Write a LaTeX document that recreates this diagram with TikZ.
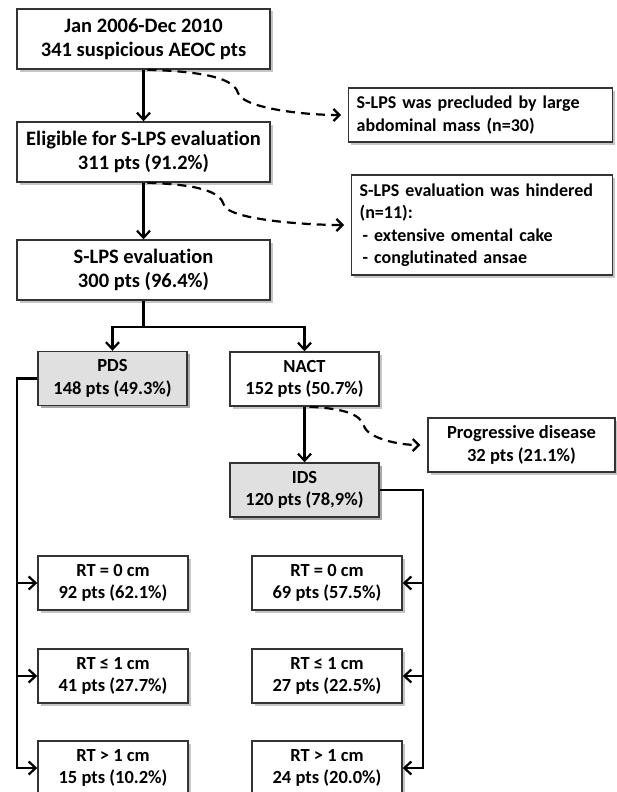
\documentclass[tikz,border=0pt]{standalone}
\usepackage{fontspec}
\setmainfont{Carlito}[Ligatures=NoCommon]
\usetikzlibrary{arrows.meta,shadows}

\begin{document}
\begin{tikzpicture}[x=1pt,y=-1pt,
  box/.style={draw=black!80,line width=1.4pt,fill=white,align=center,inner sep=2pt,
    font=\fontsize{18.5}{22.5}\selectfont\bfseries,
    drop shadow={shadow xshift=2.5pt,shadow yshift=-2.5pt,fill=black!45}},
  graybox/.style={box,fill=black!12},
  bigbox/.style={box,minimum width=253pt,minimum height=60pt,
    font=\fontsize{20.5}{24}\selectfont\bfseries},
  smallbox/.style={box,minimum width=149pt,minimum height=54pt},
  notebox/.style={box,align=left,anchor=west,inner xsep=8pt,
    font=\fontsize{18}{22.5}\selectfont\bfseries},
  link/.style={line width=2.2pt},
  arr/.style={link,-{Straight Barb[length=7pt,width=13pt]}},
  dashlink/.style={link,dash pattern=on 9pt off 6pt,
    -{Straight Barb[length=6pt,width=12pt]},shorten >=7pt}]

\useasboundingbox (0,0) rectangle (616,792);

\node[bigbox](start) at (143.5,39){Jan 2006-Dec 2010\\341 suspicious AEOC pts};
\node[bigbox](elig) at (143.5,152){Eligible for S-LPS evaluation\\311 pts (91.2\%)};
\node[bigbox](slps) at (143.5,270){S-LPS evaluation\\300 pts (96.4\%)};

\node[notebox,text width=248pt,minimum height=54pt](precl) at (348,115)
  {S-LPS was precluded by large\\abdominal mass (n=30)};
\node[notebox,text width=245pt,minimum height=100pt](hinder) at (351,225)
  {S-LPS evaluation was hindered\\(n=11):\\\hspace{3pt}- extensive omental cake\\\hspace{3pt}- conglutinated ansae};

\node[smallbox,graybox](pds) at (112.5,378.5){PDS\\148 pts (49.3\%)};
\node[smallbox](nact) at (304.5,379){NACT\\152 pts (50.7\%)};
\node[smallbox,graybox](ids) at (304.5,490){IDS\\120 pts (78,9\%)};
\node[box,minimum width=187pt,minimum height=54pt](prog) at (521.5,445){Progressive disease\\32 pts (21.1\%)};

\node[smallbox,minimum width=150pt](rtl1) at (113,583){RT = 0 cm\\92 pts (62.1\%)};
\node[smallbox,minimum width=150pt](rtl2) at (113,676){RT ≤ 1 cm\\41 pts (27.7\%)};
\node[smallbox,minimum width=150pt](rtl3) at (113,768){RT > 1 cm\\15 pts (10.2\%)};
\node[smallbox,minimum width=150pt](rtr1) at (327,583){RT = 0 cm\\69 pts (57.5\%)};
\node[smallbox,minimum width=150pt](rtr2) at (327,676){RT ≤ 1 cm\\27 pts (22.5\%)};
\node[smallbox,minimum width=150pt](rtr3) at (327,768){RT > 1 cm\\24 pts (20.0\%)};

% main flow
\draw[arr](start)--(elig);
\draw[arr](elig)--(slps);
\coordinate(split) at (143.5,327);
\draw[link](slps.south)--(split);
\draw[arr](split)-|(pds.north);
\draw[arr](split)-|(nact.north);
\draw[arr](nact)--(ids);

% exclusions
\draw[dashlink]([xshift=4pt]start.south) .. controls +(60,2) and +(-4,-14) .. (238,93)
  .. controls +(4,14) and +(-50,0) .. (precl.west);
\draw[dashlink]([xshift=4pt]elig.south) .. controls +(50,2) and +(-4,-14) .. (224,205)
  .. controls +(4,14) and +(-50,0) .. (hinder.west);
\draw[dashlink]([xshift=5pt]nact.south) .. controls +(35,2) and +(-4,-12) .. (364,426)
  .. controls +(4,12) and +(-30,0) .. (prog.west);

% residual tumour
\coordinate(lbus) at (17,378.5);
\draw[arr](pds.west)--(lbus)|-(rtl3.west);
\draw[arr](lbus|-rtl1.west)--(rtl1.west);
\draw[arr](lbus|-rtl2.west)--(rtl2.west);
\coordinate(rbus) at (423,490);
\draw[arr](ids.east)--(rbus)|-(rtr3.east);
\draw[arr](rbus|-rtr1.east)--(rtr1.east);
\draw[arr](rbus|-rtr2.east)--(rtr2.east);

\end{tikzpicture}
\end{document}
